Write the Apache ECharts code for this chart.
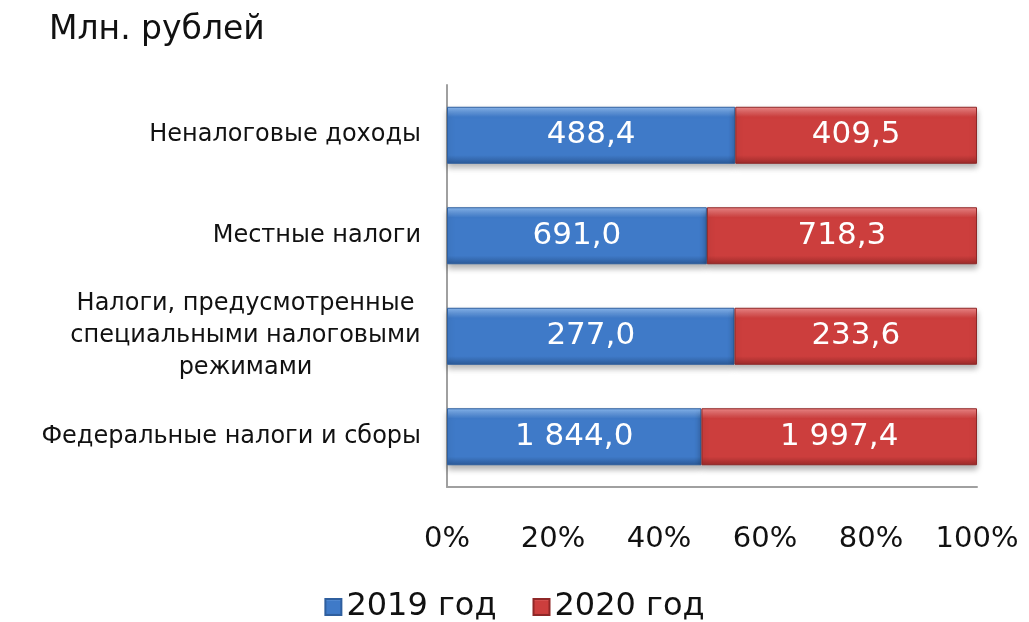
<!DOCTYPE html>
<html>
<head>
<meta charset="utf-8">
<script src="https://cdn.jsdelivr.net/npm/echarts@6/dist/echarts.min.js"></script>
<style>
  html, body { margin: 0; padding: 0; background: #fff; }
  #chart { width: 1029px; height: 622px; }
</style>
</head>
<body>
<div id="chart"></div>
<script>
// категории снизу вверх
const categories = [
  'Федеральные налоги и сборы',
  'Налоги, предусмотренные\nспециальными налоговыми\nрежимами',
  'Местные налоги',
  'Неналоговые доходы'
]
const values2019 = [1844.0, 277.0, 691.0, 488.4]
const values2020 = [1997.4, 233.6, 718.3, 409.5]
const seriesNames = ['2019 год', '2020 год']
const tickLabels = ['0%', '20%', '40%', '60%', '80%', '100%']

const fontFamily = '"DejaVu Sans", sans-serif'
const catFontSize = 24

function fmt(v) {
  const parts = v.toFixed(1).split('.')
  const int = parts[0].replace(/\B(?=(\d{3})+(?!\d))/g, ' ')
  return int + ',' + parts[1]
}

// ширина самой длинной строки, чтобы строки многострочной подписи шли по центру
const ctx = document.createElement('canvas').getContext('2d')
ctx.font = catFontSize + 'px ' + fontFamily
function blockWidth(s) {
  return Math.ceil(Math.max(...s.split('\n').map((l) => ctx.measureText(l).width)))
}

const totals = values2019.map((v, i) => v + values2020[i])
const share = (arr) => arr.map((v, i) => ({ value: (v / totals[i]) * 100, raw: v }))

function barGrad(top, mid, bottom) {
  return new echarts.graphic.LinearGradient(0, 0, 0, 1, [
    { offset: 0, color: top },
    { offset: 0.18, color: mid },
    { offset: 0.85, color: mid },
    { offset: 1, color: bottom },
  ])
}

const multi = categories.find((c) => c.indexOf('\n') >= 0)

const chart = echarts.init(document.getElementById('chart'))
const option = {
  animation: false,
  title: {
    text: 'Млн. рублей',
    left: 44,
    top: 9,
    textStyle: { fontFamily, fontSize: 33, fontWeight: 'normal', color: '#111' },
  },
  grid: { left: 447, right: 52, top: 85, bottom: 135 },
  legend: {
    data: seriesNames,
    top: 586,
    left: 'center',
    icon: 'rect',
    itemWidth: 16,
    itemHeight: 16,
    itemGap: 36,
    textStyle: { fontFamily, fontSize: 32, color: '#111' },
  },
  xAxis: {
    type: 'value',
    min: 0,
    max: 100,
    interval: 20,
    axisLine: { show: true, lineStyle: { color: '#a0a0a0', width: 2 } },
    axisTick: { show: false },
    splitLine: { show: false },
    axisLabel: {
      margin: 38,
      fontFamily,
      fontSize: 29,
      color: '#111',
      formatter: (v) => tickLabels[Math.round(v / 20)],
    },
  },
  yAxis: {
    type: 'category',
    data: categories,
    axisLine: { show: true, lineStyle: { color: '#a0a0a0', width: 2 } },
    axisTick: { show: false },
    axisLabel: {
      margin: 26,
      fontFamily,
      fontSize: catFontSize,
      lineHeight: 32,
      color: '#111',
      align: 'right',
      // многострочная подпись: строки по центру блока
      formatter: (v) =>
        v.indexOf('\n') < 0 ? v : v.split('\n').map((l) => '{c|' + l + '}').join('\n'),
      rich: {
        c: {
          width: blockWidth(multi),
          align: 'center',
          fontFamily,
          fontSize: catFontSize,
          lineHeight: 32,
          color: '#111',
        },
      },
    },
  },
  series: [
    {
      name: seriesNames[0],
      type: 'bar',
      stack: 'total',
      barWidth: 57,
      data: share(values2019),
      itemStyle: {
        color: barGrad('#8ab8ef', '#3f7ac8', '#2c5a98'),
        borderColor: '#2f5f9e',
        borderWidth: 1,
        shadowColor: 'rgba(0,0,0,0.3)',
        shadowBlur: 6,
        shadowOffsetY: 4,
      },
      label: {
        show: true,
        position: 'inside',
        color: '#fff',
        fontFamily,
        fontSize: 31,
        formatter: (p) => fmt(p.data.raw),
      },
    },
    {
      name: seriesNames[1],
      type: 'bar',
      stack: 'total',
      barWidth: 57,
      data: share(values2020),
      itemStyle: {
        color: barGrad('#f08a8a', '#cc3e3d', '#9c2b2a'),
        borderColor: '#8f2727',
        borderWidth: 1,
        shadowColor: 'rgba(0,0,0,0.3)',
        shadowBlur: 6,
        shadowOffsetY: 4,
      },
      label: {
        show: true,
        position: 'inside',
        color: '#fff',
        fontFamily,
        fontSize: 31,
        formatter: (p) => fmt(p.data.raw),
      },
    },
  ],
}

option && chart.setOption(option)
</script>
</body>
</html>
